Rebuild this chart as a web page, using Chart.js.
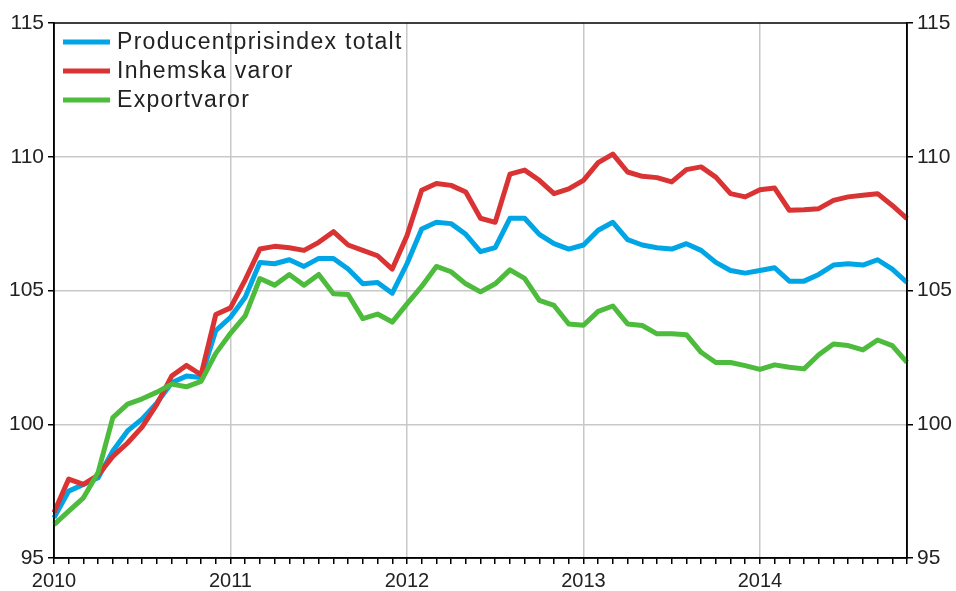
<!DOCTYPE html>
<html>
<head>
<meta charset="utf-8">
<script src="https://cdn.jsdelivr.net/npm/chart.js@4.4.1/dist/chart.umd.min.js"></script>
<style>
html,body{margin:0;padding:0;background:#fff;}
#wrap{width:956px;height:591px;position:relative;}
</style>
</head>
<body>
<div id="wrap"><canvas id="c" width="956" height="591"></canvas></div>
<script>
const months = [
 '2010M01','2010M02','2010M03','2010M04','2010M05','2010M06','2010M07','2010M08','2010M09','2010M10','2010M11','2010M12',
 '2011M01','2011M02','2011M03','2011M04','2011M05','2011M06','2011M07','2011M08','2011M09','2011M10','2011M11','2011M12',
 '2012M01','2012M02','2012M03','2012M04','2012M05','2012M06','2012M07','2012M08','2012M09','2012M10','2012M11','2012M12',
 '2013M01','2013M02','2013M03','2013M04','2013M05','2013M06','2013M07','2013M08','2013M09','2013M10','2013M11','2013M12',
 '2014M01','2014M02','2014M03','2014M04','2014M05','2014M06','2014M07','2014M08','2014M09','2014M10','2014M11'
];
const yearLabels = ['2010','2011','2012','2013','2014'];
const yTicks = [95, 100, 105, 110, 115];

const seriesNames = ['Producentprisindex totalt', 'Inhemska varor', 'Exportvaror'];

const totalt = [96.5,97.5,97.75,98.0,99.0,99.75,100.2,100.8,101.55,101.8,101.75,103.5,
 104.0,104.75,106.05,106.0,106.15,105.9,106.2,106.2,105.8,105.25,105.3,104.9,
 106.0,107.3,107.55,107.5,107.1,106.45,106.6,107.7,107.7,107.1,106.75,106.55,
 106.7,107.25,107.55,106.9,106.7,106.6,106.55,106.75,106.5,106.05,105.75,105.65,
 105.75,105.85,105.35,105.35,105.6,105.95,106.0,105.95,106.15,105.8,105.3];

const inhemska = [96.7,97.95,97.75,98.1,98.8,99.3,99.9,100.75,101.8,102.2,101.85,104.1,
 104.35,105.4,106.55,106.65,106.6,106.5,106.8,107.2,106.7,106.5,106.3,105.8,
 107.05,108.75,109.0,108.93,108.68,107.7,107.55,109.35,109.5,109.12,108.62,108.8,
 109.12,109.78,110.1,109.43,109.27,109.22,109.06,109.52,109.62,109.24,108.62,108.5,
 108.77,108.83,108.0,108.02,108.06,108.37,108.5,108.56,108.62,108.18,107.69];

const export_ = [96.25,96.75,97.25,98.2,100.25,100.75,100.95,101.2,101.5,101.4,101.6,102.65,
 103.4,104.05,105.45,105.2,105.6,105.2,105.6,104.88,104.85,103.95,104.12,103.82,
 104.5,105.15,105.9,105.7,105.25,104.95,105.25,105.77,105.45,104.63,104.44,103.75,
 103.7,104.22,104.42,103.75,103.69,103.38,103.38,103.35,102.69,102.31,102.31,102.19,
 102.05,102.22,102.13,102.07,102.6,103.0,102.94,102.78,103.15,102.94,102.31];

const colors = ['#00a5e6', '#d93333', '#4dbb3c'];
const FONT = 'Arial, "Liberation Sans", Helvetica, sans-serif';
const textColor = '#222';
const gridColor = '#c8c8c8';

const framePlugin = {
  id: 'frame',
  afterDatasetsDraw(chart) {
    const a = chart.chartArea, ctx = chart.ctx;
    ctx.save();
    ctx.strokeStyle = '#000';
    ctx.lineWidth = 1.5;
    ctx.strokeRect(a.left, a.top, a.right - a.left, a.bottom - a.top);
    ctx.restore();
  }
};

const legendPlugin = {
  id: 'insideLegend',
  afterDraw(chart) {
    const ctx = chart.ctx;
    const x0 = 63, x1 = 110, tx = 117, y0 = 42, dy = 29;
    ctx.save();
    ctx.font = '23px ' + FONT;
    try { ctx.letterSpacing = '1.3px'; } catch (e) {}
    ctx.textBaseline = 'middle';
    ctx.textAlign = 'left';
    chart.data.datasets.forEach((ds, i) => {
      const y = y0 + i * dy;
      ctx.strokeStyle = ds.borderColor;
      ctx.lineWidth = 5;
      ctx.beginPath();
      ctx.moveTo(x0, y);
      ctx.lineTo(x1, y);
      ctx.stroke();
      ctx.fillStyle = textColor;
      ctx.fillText(ds.label, tx, y + 1);
    });
    ctx.restore();
  }
};

function yScale(position, width, drawArea) {
  return {
    type: 'linear',
    position: position,
    min: yTicks[0],
    max: yTicks[yTicks.length - 1],
    afterBuildTicks(scale) { scale.ticks = yTicks.map(v => ({ value: v })); },
    afterFit(scale) { scale.width = width; },
    border: { display: true, color: '#000', width: 1.5 },
    grid: {
      drawOnChartArea: drawArea,
      color: ctx => (ctx.tick && (ctx.tick.value === yTicks[0] || ctx.tick.value === yTicks[yTicks.length - 1])) ? 'rgba(0,0,0,0)' : gridColor,
      lineWidth: 1.5,
      tickColor: '#000',
      tickLength: 6,
      tickWidth: 1.5
    },
    ticks: {
      color: textColor,
      padding: 4,
      font: { family: FONT, size: 21 }
    }
  };
}

new Chart(document.getElementById('c'), {
  type: 'line',
  data: {
    labels: months,
    datasets: [
      { label: seriesNames[0], data: totalt, borderColor: colors[0], order: 2 },
      { label: seriesNames[1], data: inhemska, borderColor: colors[1], order: 1 },
      { label: seriesNames[2], data: export_, borderColor: colors[2], order: 0 }
    ].map(d => Object.assign(d, {
      borderWidth: 5, pointRadius: 0, tension: 0, fill: false,
      borderJoinStyle: 'round', borderCapStyle: 'butt'
    }))
  },
  options: {
    responsive: false,
    animation: false,
    devicePixelRatio: 1,
    layout: { padding: { top: 23, left: 0, right: 0, bottom: 0 } },
    plugins: {
      legend: { display: false },
      tooltip: { enabled: false }
    },
    scales: {
      x: {
        type: 'category',
        offset: false,
        afterFit(scale) { scale.height = 33; },
        border: { display: true, color: '#000', width: 1.5 },
        grid: {
          color: ctx => (ctx.index > 0 && ctx.index % 12 === 0) ? gridColor : 'rgba(0,0,0,0)',
          lineWidth: 1.5,
          tickColor: '#000',
          tickLength: 6,
          tickWidth: 1.5
        },
        ticks: {
          autoSkip: false,
          maxRotation: 0,
          minRotation: 0,
          padding: 5,
          color: textColor,
          font: { family: FONT, size: 20 },
          callback: (v, i) => (i % 12 === 0) ? yearLabels[i / 12] : ''
        }
      },
      y: yScale('left', 54, true),
      y2: yScale('right', 49, false)
    }
  },
  plugins: [framePlugin, legendPlugin]
});
</script>
</body>
</html>
